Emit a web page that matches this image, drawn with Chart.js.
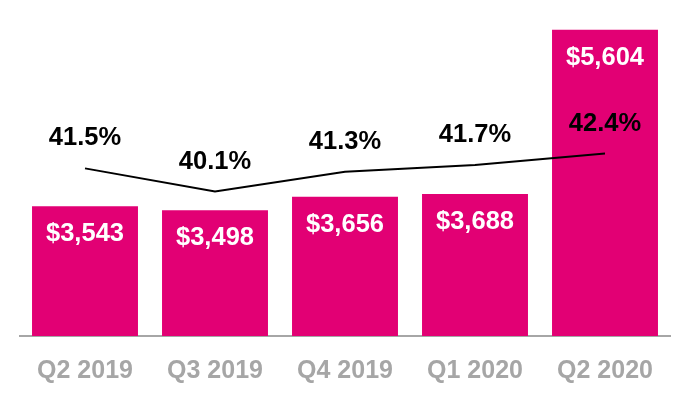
<!DOCTYPE html>
<html>
<head>
<meta charset="utf-8">
<script src="https://cdn.jsdelivr.net/npm/chart.js@4"></script>
<style>
  html, body { margin: 0; padding: 0; background: #fff; }
  #wrap { width: 690px; height: 400px; }
</style>
</head>
<body>
<div id="wrap"><canvas id="chart"></canvas></div>
<script>
// Chart data
const quarters = ['Q2 2019', 'Q3 2019', 'Q4 2019', 'Q1 2020', 'Q2 2020'];
const revenue = [3543, 3498, 3656, 3688, 5604];
const margin = [41.5, 40.1, 41.3, 41.7, 42.4];

const MAGENTA = '#e20074';
const FONT = '"Liberation Sans", Arial, sans-serif';

// Value labels: white inside bar tops, black above the line points
const valueLabels = {
  id: 'valueLabels',
  afterDatasetsDraw(chart) {
    const { ctx } = chart;
    ctx.save();
    ctx.font = `bold 25.5px ${FONT}`;
    ctx.textAlign = 'center';
    ctx.textBaseline = 'middle';

    chart.getDatasetMeta(1).data.forEach((bar, i) => {
      ctx.fillStyle = '#ffffff';
      ctx.fillText('$' + revenue[i].toLocaleString('en-US'), bar.x, bar.y + 28);
    });

    chart.getDatasetMeta(0).data.forEach((pt, i) => {
      ctx.fillStyle = '#000000';
      ctx.fillText(margin[i].toFixed(1) + '%', pt.x, pt.y - 30);
    });
    ctx.restore();
  },
};

new Chart(document.getElementById('chart'), {
  type: 'bar',
  data: {
    labels: quarters,
    datasets: [
      {
        type: 'line',
        label: 'Margin',
        data: margin,
        yAxisID: 'y2',
        borderColor: '#000000',
        borderWidth: 2,
        pointRadius: 0,
        tension: 0,
        order: 0,
      },
      {
        label: 'Revenue',
        data: revenue,
        yAxisID: 'y',
        backgroundColor: MAGENTA,
        categoryPercentage: 1,
        barPercentage: 0.815,
        order: 1,
      },
    ],
  },
  options: {
    responsive: true,
    maintainAspectRatio: false,
    animation: false,
    layout: { padding: { left: 20, right: 20, top: 10, bottom: -6 } },
    scales: {
      x: {
        grid: { display: false, drawTicks: false },
        border: { display: true, color: '#a6a6a6', width: 2 },
        ticks: {
          color: '#a6a6a6',
          padding: 20,
          font: { family: FONT, size: 25, weight: 'bold' },
        },
      },
      y: {
        display: false,
        min: 2030,
        max: 5835,
      },
      y2: {
        display: false,
        min: 31.37,
        max: 51.07,
      },
    },
    plugins: {
      legend: { display: false },
      tooltip: { enabled: false },
    },
  },
  plugins: [valueLabels],
});
</script>
</body>
</html>
